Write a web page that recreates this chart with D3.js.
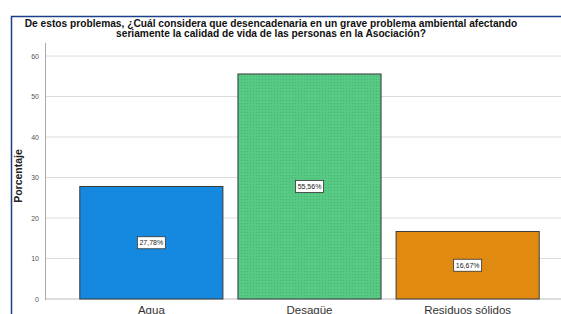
<!DOCTYPE html>
<html>
<head>
<meta charset="utf-8">
<script src="https://cdn.jsdelivr.net/npm/d3@7"></script>
<style>
  body { margin: 0; background: #fff; }
  svg { display: block; font-family: "Liberation Sans", Arial, sans-serif; }
</style>
</head>
<body>
<svg id="chart" width="561" height="314"></svg>
<script>
// data
const categories = ['Agua', 'Desagüe', 'Residuos sólidos'];
const values = [27.78, 55.56, 16.67];
const valueLabels = ['27,78%', '55,56%', '16,67%'];
const yTicks = [0, 10, 20, 30, 40, 50, 60];
const titleLines = [
    'De estos problemas, ¿Cuál considera que desencadenaria en un grave problema ambiental afectando',
    'seriamente la calidad de vida de las personas en la Asociación?'
];

const colors = ['#1589e0', 'url(#dots)', '#e08a12'];

const svg = d3.select('#chart');

// dotted fill for the middle bar
const pat = svg.append('defs').append('pattern')
    .attr('id', 'dots')
    .attr('width', 3).attr('height', 3)
    .attr('patternUnits', 'userSpaceOnUse');
pat.append('rect').attr('width', 3).attr('height', 3).attr('fill', '#58c985');
pat.append('rect').attr('x', 1).attr('y', 1).attr('width', 1).attr('height', 1).attr('fill', '#44b673');

// outer frame
svg.append('rect')
    .attr('x', 11.5).attr('y', 16.5)
    .attr('width', 600).attr('height', 400)
    .attr('fill', 'none')
    .attr('stroke', '#1d3f8a')
    .attr('stroke-width', 1.5);

// title
svg.append('g').selectAll('text')
    .data(titleLines)
    .enter().append('text')
    .attr('x', 271)
    .attr('y', (d, i) => 27 + i * 10)
    .attr('text-anchor', 'middle')
    .style('font-size', '10.2px')
    .style('font-weight', 'bold')
    .style('fill', '#111')
    .text(d => d);

const x0 = 45;
const y = d3.scaleLinear().domain([0, 60]).range([299, 56]);
const x = d3.scaleBand()
    .domain(categories)
    .range([x0, 574])
    .paddingInner(0.095)
    .paddingOuter(0.22);

// gridlines
svg.append('g').selectAll('line')
    .data(yTicks)
    .enter().append('line')
    .attr('x1', x0).attr('x2', 561)
    .attr('y1', d => y(d)).attr('y2', d => y(d))
    .attr('stroke', d => d === 0 ? '#bbb' : '#dcdcdc')
    .attr('stroke-width', 1);

// y axis
const yAxis = svg.append('g')
    .attr('transform', `translate(${x0},0)`)
    .call(d3.axisLeft(y).tickValues(yTicks).tickSize(0).tickPadding(6));
yAxis.select('.domain').remove();
yAxis.selectAll('text')
    .style('font-size', '7px')
    .style('fill', '#555')
    .style('font-family', '"Liberation Sans", Arial, sans-serif');

svg.append('line')
    .attr('x1', x0 + 0.5).attr('x2', x0 + 0.5)
    .attr('y1', 43).attr('y2', 300)
    .attr('stroke', '#aaa');

svg.append('text')
    .attr('transform', `translate(22,176) rotate(-90)`)
    .attr('text-anchor', 'middle')
    .style('font-size', '10.5px')
    .style('font-weight', 'bold')
    .style('fill', '#222')
    .text('Porcentaje');

// bars
const bars = svg.append('g').selectAll('g')
    .data(categories)
    .enter().append('g');

bars.append('rect')
    .attr('x', d => x(d))
    .attr('y', (d, i) => y(values[i]))
    .attr('width', x.bandwidth())
    .attr('height', (d, i) => y(0) - y(values[i]))
    .attr('fill', (d, i) => colors[i])
    .attr('stroke', '#3a3a3a')
    .attr('stroke-width', 1);

// value labels
const lbl = bars.append('g')
    .attr('transform', (d, i) => `translate(${x(d) + x.bandwidth() / 2},${(y(values[i]) + y(0)) / 2})`);
lbl.append('rect')
    .attr('x', -14).attr('y', -6)
    .attr('width', 28).attr('height', 12)
    .attr('fill', '#fff')
    .attr('stroke', '#333')
    .attr('stroke-width', 0.8);
lbl.append('text')
    .attr('text-anchor', 'middle')
    .attr('dy', '0.35em')
    .style('font-size', '7px')
    .style('fill', '#222')
    .text((d, i) => valueLabels[i]);

// category labels
svg.append('g').selectAll('text')
    .data(categories)
    .enter().append('text')
    .attr('x', d => x(d) + x.bandwidth() / 2)
    .attr('y', 314)
    .attr('text-anchor', 'middle')
    .style('font-size', '11.5px')
    .style('fill', '#333')
    .text(d => d);
</script>
</body>
</html>
